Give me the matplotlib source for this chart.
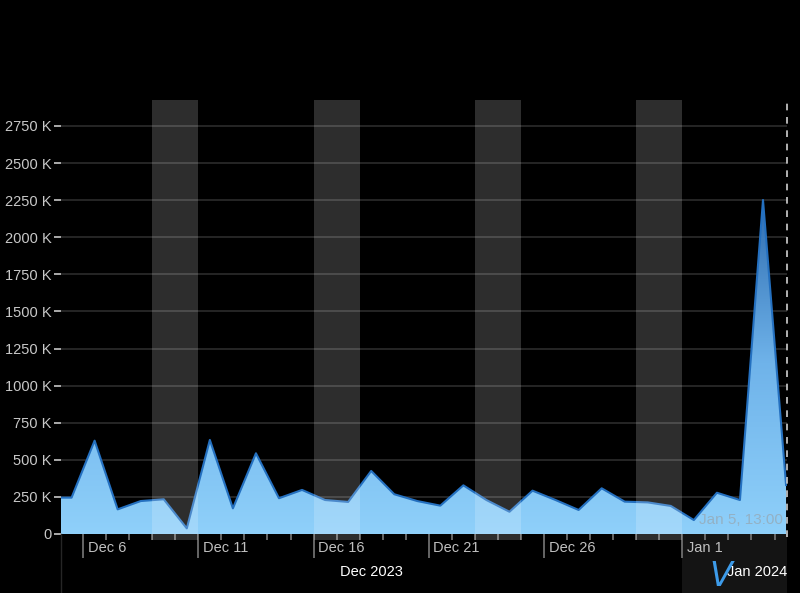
import datetime as dt
import numpy as np
import matplotlib.pyplot as plt
import matplotlib.dates as mdates
import matplotlib.transforms as mtransforms
from matplotlib.colors import LinearSegmentedColormap

plt.rcParams['font.family'] = ['Liberation Sans', 'DejaVu Sans']

# daily totals (thousands), sampled at noon
start_day = dt.datetime(2023, 12, 4, 12)
values_k = [245, 245, 629, 166, 222, 234, 38, 634, 173, 544, 241, 297, 229, 216,
            425, 268, 222, 191, 328, 229, 150, 292, 229, 162, 308, 218, 213, 189,
            94, 278, 229, 2251, 330]
dates = [start_day + dt.timedelta(days=i) for i in range(len(values_k))]

x_start = dt.datetime(2023, 12, 5, 1)
x_end = dt.datetime(2024, 1, 5, 13)
y_max = 2925
y_ticks = list(range(0, 2751, 250))
y_tick_labels = ['0'] + [f'{v} K' for v in y_ticks[1:]]

weekends = [dt.datetime(2023, 12, 9), dt.datetime(2023, 12, 16),
            dt.datetime(2023, 12, 23), dt.datetime(2023, 12, 30)]
major_days = [dt.datetime(2023, 12, 6), dt.datetime(2023, 12, 11),
              dt.datetime(2023, 12, 16), dt.datetime(2023, 12, 21),
              dt.datetime(2023, 12, 26), dt.datetime(2024, 1, 1)]
major_labels = ['Dec 6', 'Dec 11', 'Dec 16', 'Dec 21', 'Dec 26', 'Jan 1']

fig = plt.figure(figsize=(8, 5.93), dpi=100, facecolor='black')
ax = fig.add_axes([0.07625, 0.0995, 0.9075, 0.7319])
ax.set_facecolor('black')

xn = mdates.date2num(dates)
x0, x1 = mdates.date2num(x_start), mdates.date2num(x_end)

# gradient area
poly = ax.fill_between(xn, values_k, 0, color='none', lw=0)
cmap = LinearSegmentedColormap.from_list('area', ['#8fd0fa', '#6fb3ea', '#2a68ad'])
grad = np.linspace(0, 1, 256).reshape(-1, 1)
im = ax.imshow(grad, extent=[xn[0], xn[-1], 0, 2300], aspect='auto', cmap=cmap,
               origin='lower', zorder=2)
im.set_clip_path(poly.get_paths()[0], transform=ax.transData)
ax.plot(xn, values_k, color='#2470c0', lw=1.5, zorder=3)

# weekend bands
for d in weekends:
    ax.axvspan(d, d + dt.timedelta(days=2), ymin=-0.014, ymax=1.0,
               color='white', alpha=0.18, lw=0, zorder=4, clip_on=False)

# now marker
ax.axvline(x_end, ymin=-0.007, ymax=1.0, color='#d0d0d0', lw=1.2,
           ls=(0, (4, 4)), zorder=5, clip_on=False)

ax.set_xlim(x0, x1)
ax.set_ylim(0, y_max)

ax.set_yticks(y_ticks)
ax.set_yticklabels(y_tick_labels)
ax.yaxis.grid(True, color='#282828', lw=1.3)
ax.set_axisbelow(True)
ax.tick_params(axis='y', colors='#c8c8c8', labelsize=10.5, length=5, width=1.2,
               pad=2)

ax.xaxis.set_major_locator(mdates.DayLocator(bymonthday=[1, 6, 11, 16, 21, 26]))
ax.xaxis.set_minor_locator(mdates.DayLocator())
ax.xaxis.set_major_formatter(plt.NullFormatter())
ax.tick_params(axis='x', which='major', length=17, width=1.2, colors='#777777')
ax.tick_params(axis='x', which='minor', length=4, width=1.2, colors='#777777')
for s in ax.spines.values():
    s.set_visible(False)

off = mtransforms.blended_transform_factory(ax.transData, ax.transAxes)
for d, lab in zip(major_days, major_labels):
    ax.text(mdates.date2num(d) + 0.2, -0.033, lab, transform=off, ha='left',
            va='center', color='#c0c0c0', fontsize=10.5)

# month row
ax.axvspan(dt.datetime(2024, 1, 1), x_end, ymin=-0.14, ymax=0, color='#141414',
           lw=0, clip_on=False, zorder=0)
ax.axvline(x0, ymin=-0.14, ymax=0, color='#262626', lw=1, clip_on=False)
dec_mid = (x0 + mdates.date2num(dt.datetime(2024, 1, 1))) / 2
ax.text(dec_mid, -0.087, 'Dec 2023', transform=off, ha='center', va='center',
        color='white', fontsize=10.5)
ax.text(x1, -0.087, 'Jan 2024', transform=off, ha='right', va='center',
        color='white', fontsize=10.5)
ax.text(mdates.date2num(dt.datetime(2024, 1, 2, 16)), -0.097, 'V', transform=off,
        ha='center', va='center', color='#3d9be9', fontsize=24,
        style='italic', family='DejaVu Sans', zorder=6)

ax.text(0.995, 0.033, 'Jan 5, 13:00', transform=ax.transAxes, ha='right',
        va='center', color='#9a9a9a', alpha=0.55, fontsize=11, zorder=6)

fig.savefig('out.png', dpi=100, facecolor='black')
